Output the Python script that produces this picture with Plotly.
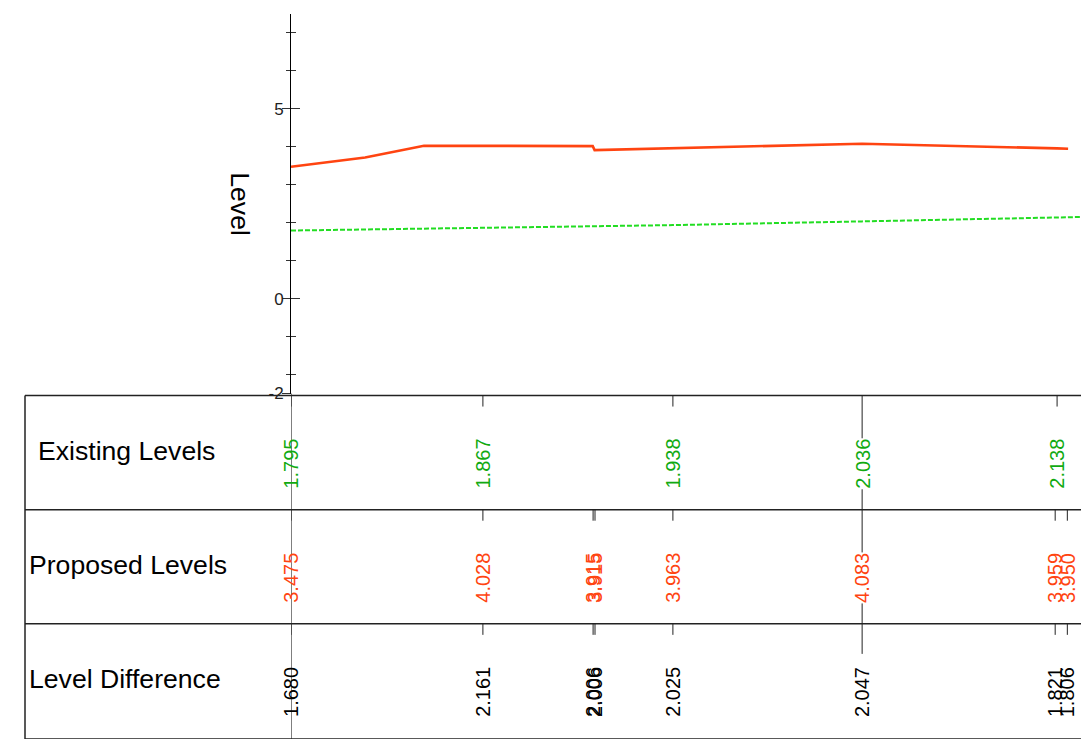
import plotly.graph_objects as go

# ---------------- data ----------------
# proposed level profile (chainage m, level)
prop_line_ch = [0.0, 19.5, 35.0, 50.5, 79.4, 79.9, 100.5, 150.3, 201.6, 204.5]
prop_line_lv = [3.475, 3.72, 4.03, 4.028, 4.02, 3.915, 3.963, 4.083, 3.959, 3.950]
# existing level profile
exist_line_ch = [0.0, 50.5, 100.5, 150.3, 201.6, 212.0]
exist_line_lv = [1.795, 1.867, 1.938, 2.036, 2.138, 2.160]

# table rows
tab_exist_ch = [0.0, 50.5, 100.5, 150.3, 201.6]
tab_exist = ["1.795", "1.867", "1.938", "2.036", "2.138"]
tab_prop_ch = [0.0, 50.5, 79.5, 80.0, 100.5, 150.3, 201.1, 204.3]
tab_prop = ["3.475", "4.028", "3.915", "3.915", "3.963", "4.083", "3.959", "3.950"]
tab_diff = ["1.680", "2.161", "2.006", "2.006", "2.025", "2.047", "1.821", "1.806"]
highlight_ch = 150.3

row_titles = ["Existing Levels", "Proposed Levels", "Level Difference"]
y_tickvals = [-2.5, 0, 5]
y_ticktext = ["-2", "0", "5"]

# ---------------- layout helpers ----------------
W, H = 1081, 739          # target picture size
H_FIG = 750               # figure height (picture is captured from a slightly taller page)
X_LEFT = 291
PX_PER_M = 3.8
x_max = (W - X_LEFT) / PX_PER_M


def py(ypx):
    return 1 - ypx / H


def pxx(xpx):
    return xpx / W


GREEN_LINE = "#22dd22"
GREEN_TEXT = "#11aa11"
RED = "#ff4411"
LINE_C = "#222222"
FONT = "Arial, Liberation Sans"

fig = go.Figure()
fig.add_trace(go.Scatter(x=prop_line_ch, y=prop_line_lv, mode="lines",
                         line=dict(color=RED, width=2.6), yaxis="y",
                         hoverinfo="skip", showlegend=False))
fig.add_trace(go.Scatter(x=exist_line_ch, y=exist_line_lv, mode="lines",
                         line=dict(color=GREEN_LINE, width=2, dash="5px,2px"),
                         yaxis="y2", hoverinfo="skip", showlegend=False))

ydom = [py(393), py(14)]
yr = [-2.5, 7.5]

shapes = []
annotations = []

# y axis extension through table
shapes.append(dict(type="line", xref="x", yref="paper", x0=0, x1=0,
                   y0=0, y1=py(393), line=dict(color="black", width=1)))

# table grid
row_tops = [395, 509, 623]
for yp in row_tops + [738]:
    shapes.append(dict(type="line", xref="paper", yref="paper", x0=pxx(25), x1=1,
                       y0=py(yp), y1=py(yp), line=dict(color=LINE_C, width=1.5)))
shapes.append(dict(type="line", xref="paper", yref="paper", x0=pxx(25), x1=pxx(25),
                   y0=py(738), y1=py(395), line=dict(color=LINE_C, width=1.5)))

row_title_x = [38, 29, 29]
for i, t in enumerate(row_titles):
    annotations.append(dict(text=t, xref="paper", yref="paper", x=pxx(row_title_x[i] - 2),
                            y=py(row_tops[i] + 55), xanchor="left", yanchor="middle",
                            showarrow=False, font=dict(size=26.6, color="black", family=FONT)))

rows = [(tab_exist_ch, tab_exist, GREEN_TEXT),
        (tab_prop_ch, tab_prop, RED),
        (tab_prop_ch, tab_diff, "black")]
for r, (chs, vals, col) in enumerate(rows):
    top = row_tops[r]
    for ch, v in zip(chs, vals):
        hl = abs(ch - highlight_ch) < 1e-6
        if not hl:
            shapes.append(dict(type="line", xref="x", yref="paper", x0=ch, x1=ch,
                               y0=py(top + 11), y1=py(top), line=dict(color=LINE_C, width=1)))
        annotations.append(dict(text=v, xref="x", yref="paper", x=ch, y=py(top + 68),
                                xanchor="center", yanchor="middle", textangle=-90,
                                showarrow=False, borderpad=0,
                                bgcolor="white" if hl and r < 2 else "rgba(0,0,0,0)",
                                font=dict(size=20, color=col, family=FONT)))

# highlighted chainage long tick
shapes.append(dict(type="line", xref="x", yref="paper", x0=highlight_ch, x1=highlight_ch,
                   y0=py(653), y1=py(395), line=dict(color=LINE_C, width=1), layer="below"))

# y title
annotations.append(dict(text="Level", xref="paper", yref="paper", x=pxx(240), y=py(204),
                        xanchor="center", yanchor="middle", textangle=90, showarrow=False,
                        font=dict(size=26.6, color="black", family=FONT)))

fig.update_layout(
    width=W, height=H_FIG, margin=dict(l=0, r=0, t=0, b=0),
    paper_bgcolor="white", plot_bgcolor="white",
    xaxis=dict(domain=[pxx(X_LEFT), 1], range=[0, x_max], visible=False, fixedrange=True),
    yaxis=dict(domain=ydom, range=yr, anchor="x", showgrid=False, zeroline=False,
               showline=True, linecolor="black", linewidth=1,
               tickmode="array", tickvals=y_tickvals, ticktext=y_ticktext,
               ticks="outside", ticklen=8, tickcolor="#333", tickwidth=1,
               ticklabelstandoff=-5,
               tickfont=dict(size=17, color="#222", family=FONT),
               minor=dict(ticks="outside", ticklen=4, dtick=1, tick0=0,
                          tickcolor="#333", tickwidth=1)),
    yaxis2=dict(domain=ydom, range=yr, overlaying="y", anchor="x", side="left",
                showgrid=False, zeroline=False, showline=False, showticklabels=False,
                tickmode="array", tickvals=[0, 5], ticks="inside", ticklen=9,
                tickcolor="#333", tickwidth=1,
                minor=dict(ticks="inside", ticklen=5, dtick=1, tick0=0,
                           tickcolor="#333", tickwidth=1)),
    shapes=shapes, annotations=annotations,
)

fig.write_html(
    "out.html",
    config={"displayModeBar": False, "staticPlot": True},
    post_script=(
        "document.body.style.margin='0';"
        "document.documentElement.style.overflow='hidden';"
        "document.body.style.overflow='hidden';"
        "var d=document.getElementById('{plot_id}');"
        "d.style.position='fixed';d.style.top='0px';d.style.left='0px';"
    ),
)
